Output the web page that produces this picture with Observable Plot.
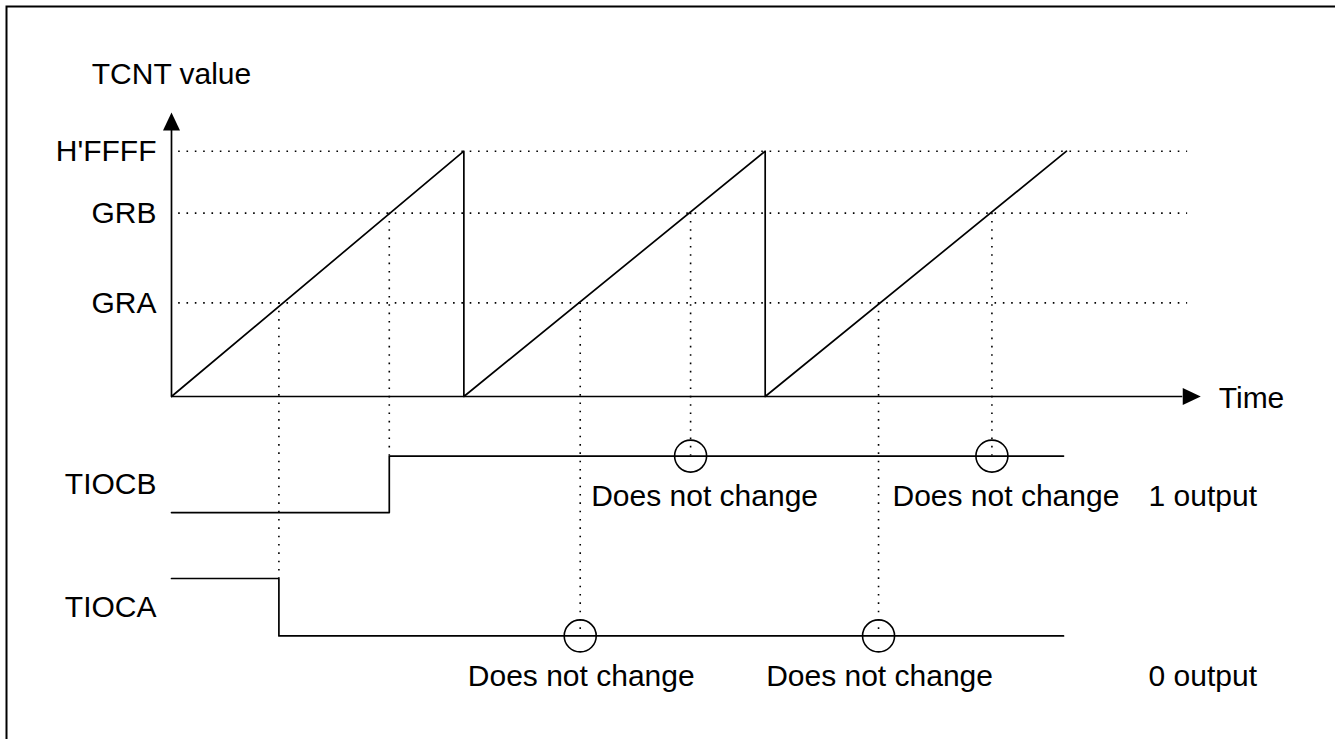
<!DOCTYPE html>
<html>
<head>
<meta charset="utf-8">
<script src="https://cdn.jsdelivr.net/npm/d3@7"></script>
<script src="https://cdn.jsdelivr.net/npm/@observablehq/plot@0.6"></script>
<style>
  html, body { margin: 0; padding: 0; background: white; overflow: hidden; }
</style>
</head>
<body>
<div id="chart"></div>
<script>
// ---- data (time in arbitrary units, counter in TCNT counts) ----
const counterMax = 65535;                 // H'FFFF
const GRA = 25000;                        // compare register A (estimated)
const GRB = 49000;                        // compare register B (estimated)
const yTickValues = [counterMax, GRB, GRA];
const yTickLabels = ["H'FFFF", "GRB", "GRA"];

// TCNT sawtooth (overflow at H'FFFF)
const counterT = [0, 98, 98, 199, 199, 300];
const counterV = [0, counterMax, 0, counterMax, 0, counterMax];

// compare-match times
const compareA = [36, 137, 237];
const compareB = [73, 174, 275];

// output levels
const signalNames = ["TIOCB", "TIOCA"];
const tiocbInitial = 0, tiocbAfter = [1, 1, 1];
const tiocaInitial = 1, tiocaAfter = [0, 0, 0];
const signalEnd = 299;
const noteText = "Does not change";

// ---- layout (diagram units: counter normalized 0..1) ----
const lanes = {TIOCB: {lo: -0.473, hi: -0.243}, TIOCA: {lo: -0.976, hi: -0.742}};
const yAxisTop = 1.084, yArrowTip = 1.158;
const xAxisEnd = 339, xArrowTip = 345;
const dotStart = 2.4, dotEnd = 340.6;
const noteX = 327.5;
const FONT = 30;
const dotted = "1.6 6.73";

const laneY = (name, s) => s ? lanes[name].hi : lanes[name].lo;

function signal(name, init, times, after) {
  const pts = [{t: 0, s: init}];
  times.forEach((t, i) => pts.push({t, s: after[i]}));
  pts.push({t: signalEnd, s: after[after.length - 1]});
  return pts.map(d => ({...d, name, y: laneY(name, d.s)}));
}
function events(name, level, init, times, after) {
  return times.map((t, i) => {
    const before = i === 0 ? init : after[i - 1];
    return {name, t, level: level / counterMax, before, after: after[i],
            change: before !== after[i],
            yTop: laneY(name, Math.max(before, after[i])),
            yAt: laneY(name, after[i])};
  });
}

const sigB = signal("TIOCB", tiocbInitial, compareB, tiocbAfter);
const sigA = signal("TIOCA", tiocaInitial, compareA, tiocaAfter);
const evB = events("TIOCB", GRB, tiocbInitial, compareB, tiocbAfter);
const evA = events("TIOCA", GRA, tiocaInitial, compareA, tiocaAfter);
const counter = counterT.map((t, i) => ({t, v: counterV[i] / counterMax}));
const finals = [
  {name: "TIOCB", s: tiocbAfter[tiocbAfter.length - 1]},
  {name: "TIOCA", s: tiocaAfter[tiocaAfter.length - 1]}
];

const arrowUp = {draw(ctx) { ctx.moveTo(0, 0); ctx.lineTo(-8.5, 18); ctx.lineTo(8.5, 18); ctx.closePath(); }};
const arrowRight = {draw(ctx) { ctx.moveTo(0, 0); ctx.lineTo(-18, -8.5); ctx.lineTo(-18, 8.5); ctx.closePath(); }};

const SW = 1.7;
const chart = Plot.plot({
  width: 1335,
  height: 739,
  margin: 0,
  x: {type: "linear", domain: [0, 300], range: [171, 1066], axis: null},
  y: {type: "linear", domain: [0, 1], range: [396, 150.7], axis: null},
  style: {fontFamily: "Arial, 'Liberation Sans', sans-serif", background: "white", color: "black"},
  marks: [
    Plot.frame({stroke: "black", strokeWidth: 2, insetLeft: 6, insetTop: 6, insetRight: -10, insetBottom: -10}),
    // horizontal reference levels
    Plot.ruleY(yTickValues, {y: v => v / counterMax, x1: dotStart, x2: dotEnd, stroke: "black", strokeWidth: 1.6, strokeDasharray: dotted}),
    // vertical compare-match guides
    Plot.ruleX([...evB, ...evA], {x: "t", y1: "level", y2: "yTop", stroke: "black", strokeWidth: 1.6, strokeDasharray: dotted}),
    // axes
    Plot.ruleX([0], {y1: 0, y2: yAxisTop, stroke: "black", strokeWidth: SW}),
    Plot.ruleY([0], {x1: 0, x2: xAxisEnd, stroke: "black", strokeWidth: SW}),
    Plot.dot([0], {x: 0, y: yArrowTip, symbol: arrowUp, fill: "black", stroke: "none"}),
    Plot.dot([0], {x: xArrowTip, y: 0, symbol: arrowRight, fill: "black", stroke: "none"}),
    // TCNT sawtooth
    Plot.line(counter, {x: "t", y: "v", stroke: "black", strokeWidth: SW}),
    // outputs
    Plot.line(sigB, {x: "t", y: "y", curve: "step-after", stroke: "black", strokeWidth: SW}),
    Plot.line(sigA, {x: "t", y: "y", curve: "step-after", stroke: "black", strokeWidth: SW}),
    // "does not change" markers
    Plot.dot([...evB, ...evA].filter(d => !d.change), {x: "t", y: "yAt", r: 16, stroke: "black", strokeWidth: 1.6, fill: "none"}),
    Plot.text(evB.filter(d => !d.change), {x: "t", y: "yAt", text: () => noteText, dy: 40, dx: 14, fontSize: FONT}),
    Plot.text(evA.filter(d => !d.change), {x: "t", y: "yAt", text: () => noteText, dy: 40, dx: 1, fontSize: FONT}),
    Plot.text(finals, {x: noteX, y: d => laneY(d.name, d.s), text: d => `${d.s} output`, dy: 40, textAnchor: "start", fontSize: FONT}),
    // labels
    Plot.text(yTickValues, {x: 0, y: v => v / counterMax, text: (v, i) => yTickLabels[i], textAnchor: "end", dx: -15, fontSize: FONT}),
    Plot.text(signalNames, {x: 0, y: n => (lanes[n].lo + lanes[n].hi) / 2, text: n => n, textAnchor: "end", dx: -15, fontSize: FONT}),
    Plot.text(["TCNT value"], {x: 0, y: yArrowTip, text: d => d, dy: -38, fontSize: FONT}),
    Plot.text(["Time"], {x: xArrowTip, y: 0, text: d => d, dx: 18, dy: 2, textAnchor: "start", fontSize: FONT})
  ]
});
document.getElementById("chart").appendChild(chart);
</script>
</body>
</html>
